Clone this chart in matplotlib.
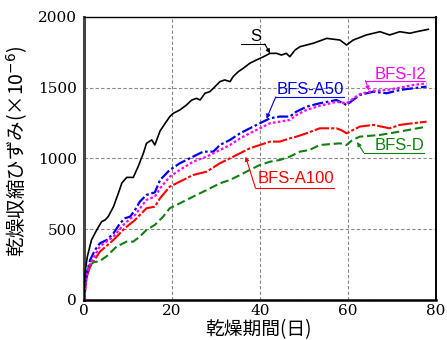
import matplotlib
matplotlib.use("Agg")
import matplotlib.pyplot as plt
import numpy as np

plt.rcParams['font.family'] = ['Noto Sans CJK JP', 'DejaVu Sans']

# drying shrinkage vs. drying period, days / x10^-6
s_days = [0, 0.2, 0.75, 1.7, 2.9, 4.0, 4.8, 5.5, 6.7, 7.8, 8.6, 9.7, 11.2, 12.3, 13.5, 14.2,
          15.4, 16.1, 17.3, 19.5, 20.3, 21.8, 23.3, 24.5, 25.6, 26.4, 27.5, 28.6, 29.8, 30.9,
          32.0, 33.2, 33.9, 35.1, 36.2, 37.7, 39.2, 40.8, 42.3, 43.8, 44.9, 46.0, 46.8, 48.0,
          49.1, 52.1, 55.2, 58.2, 59.7, 61.2, 64.2, 67.3, 69.5, 71.8, 74.1, 75.6, 78.3]
s_vals = [0, 188, 306, 424, 495, 553, 565, 589, 659, 754, 826, 866, 866, 942, 1037, 1107,
          1131, 1095, 1195, 1296, 1319, 1343, 1378, 1413, 1425, 1413, 1461, 1472, 1508, 1543,
          1555, 1543, 1578, 1614, 1637, 1673, 1696, 1719, 1743, 1743, 1731, 1743, 1719, 1767,
          1790, 1814, 1849, 1837, 1802, 1837, 1873, 1896, 1873, 1896, 1885, 1896, 1913]

a50_days = [0, 0.2, 0.6, 1.4, 2.5, 3.6, 5.2, 6.7, 8.2, 9.3, 10.5, 11.6, 12.7, 14.2, 16.1,
            17.3, 19.5, 21.8, 24.8, 27.1, 29.4, 30.9, 33.2, 35.5, 37.7, 40.0, 42.3, 44.5,
            46.8, 48.3, 50.6, 53.6, 57.4, 59.7, 62.7, 65.8, 68.8, 71.8, 74.8, 77.9]
a50_vals = [0, 71, 188, 283, 353, 400, 424, 471, 542, 577, 589, 636, 695, 742, 760,
            848, 919, 966, 1013, 1048, 1048, 1095, 1131, 1178, 1213, 1249, 1284, 1296,
            1296, 1331, 1366, 1390, 1413, 1378, 1449, 1472, 1461, 1484, 1496, 1508]

i2_days = [0, 0.2, 0.6, 1.4, 3.6, 6.7, 9.3, 11.6, 14.2, 16.1, 17.3, 19.5, 21.8, 24.8,
           27.9, 30.9, 33.2, 35.5, 37.7, 40.0, 42.3, 44.5, 46.8, 48.3, 50.6, 53.6, 57.4,
           59.7, 62.7, 65.8, 68.8, 71.8, 74.8, 77.9]
i2_vals = [0, 60, 170, 259, 377, 448, 542, 601, 707, 730, 789, 871, 919, 977,
           1013, 1060, 1095, 1142, 1178, 1213, 1249, 1260, 1272, 1307, 1343, 1372, 1400,
           1390, 1455, 1478, 1484, 1500, 1519, 1531]

a100_days = [0, 0.2, 0.6, 1.4, 3.6, 6.7, 9.3, 11.6, 14.2, 16.1, 17.3, 19.5, 21.8, 24.8,
             27.9, 30.9, 33.2, 35.5, 37.7, 40.0, 42.3, 44.5, 46.8, 48.3, 50.6, 53.6, 57.4,
             58.5, 59.7, 62.7, 65.8, 69.5, 71.8, 74.8, 77.9]
a100_vals = [0, 55, 160, 236, 341, 424, 507, 565, 648, 659, 719, 801, 836, 883,
             907, 966, 1001, 1037, 1072, 1095, 1119, 1119, 1142, 1154, 1178, 1213, 1213,
             1200, 1178, 1225, 1237, 1213, 1237, 1249, 1260]

d_days = [0, 0.2, 1.0, 2.1, 3.6, 5.2, 7.4, 9.7, 11.2, 12.7, 14.2, 16.1, 18.0, 19.5, 21.8,
          24.8, 27.9, 30.9, 33.2, 35.5, 37.7, 40.0, 42.3, 44.5, 46.8, 49.1, 51.3, 53.6,
          58.2, 59.7, 61.0, 62.7, 67.3, 71.8, 77.9]
d_vals = [0, 94, 236, 265, 275, 310, 377, 412, 412, 448, 495, 530, 589, 648, 683,
          730, 777, 824, 848, 883, 919, 954, 977, 989, 1013, 1048, 1060, 1095,
          1107, 1095, 1130, 1154, 1166, 1190, 1225]

fig = plt.figure(figsize=(4.47, 3.40), dpi=100)
ax = fig.add_axes([0.188, 0.118, 0.787, 0.832])

ax.plot(s_days, s_vals, color='black', lw=1.2, zorder=5)
ax.plot(a50_days, a50_vals, color='#0000ee', lw=1.6, dashes=(5, 1.2, 1.2, 1.2), zorder=4)
ax.plot(i2_days, i2_vals, color='#ff00ff', lw=1.6, dashes=(1.2, 1.0), zorder=4)
ax.plot(a100_days, a100_vals, color='#ff0000', lw=1.5, dashes=(7, 1.0, 1.5, 1.0), zorder=3)
ax.plot(d_days, d_vals, color='#108010', lw=1.5, dashes=(4, 1.8), zorder=3)

ax.set_xlim(0, 80)
ax.set_ylim(0, 2000)
ax.set_xticks([0, 20, 40, 60, 80])
ax.set_yticks([0, 500, 1000, 1500, 2000])
ax.grid(True, color='#888888', lw=0.8, dashes=(3, 2))
ax.tick_params(length=0, pad=5, labelsize=11)
ax.tick_params(axis='x', pad=3)
for lab in ax.get_xticklabels() + ax.get_yticklabels():
    lab.set_fontfamily('DejaVu Serif')

ax.spines['left'].set_linewidth(2.2)
ax.spines['left'].set_color('#444444')
ax.spines['bottom'].set_linewidth(1.8)
ax.spines['right'].set_linewidth(1.4)
ax.spines['top'].set_linewidth(1.0)

fig.text(0.038, 0.555, '乾燥収縮ひずみ(×10$^{-6}$)', rotation=90, fontsize=14,
         ha='center', va='center')
fig.text(0.578, 0.0, '乾燥期間(日)', fontsize=13.5, ha='center', va='bottom')


def label(text, color, txy, ul, start, tip_day, tip_off, days, vals):
    # underlined name with a leader from one end of the underline to the curve
    ax.text(txy[0], txy[1], text, color=color, fontsize=12, family='Liberation Sans',
            ha='center', va='center', zorder=6)
    ax.plot(ul[:2], [ul[2], ul[2]], color=color, lw=0.8, zorder=6)
    tip = (tip_day, np.interp(tip_day, days, vals) + tip_off)
    ax.annotate('', xy=tip, xytext=(ul[start], ul[2]),
                arrowprops=dict(arrowstyle='-|>', color=color, lw=0.8,
                                mutation_scale=6, shrinkA=0, shrinkB=0), zorder=6)


label('S', 'black', (39.0, 1860), (35.8, 41.1, 1809), 1, 42.3, 0, s_days, s_vals)
label('BFS-A50', '#0000ee', (51.5, 1484), (43.6, 59.1, 1435), 0, 41.5, 10, a50_days, a50_vals)
label('BFS-I2', '#ff00ff', (72.0, 1597), (64.0, 77.6, 1550), 0, 64.8, 10, i2_days, i2_vals)
label('BFS-D', '#108010', (71.8, 1095), (63.6, 77.3, 1041), 0, 62.1, -30, d_days, d_vals)
label('BFS-A100', '#ff0000', (48.1, 859), (39.0, 56.8, 789), 0, 36.75, -45,
      a100_days, a100_vals)

fig.savefig('out.png', dpi=100)
